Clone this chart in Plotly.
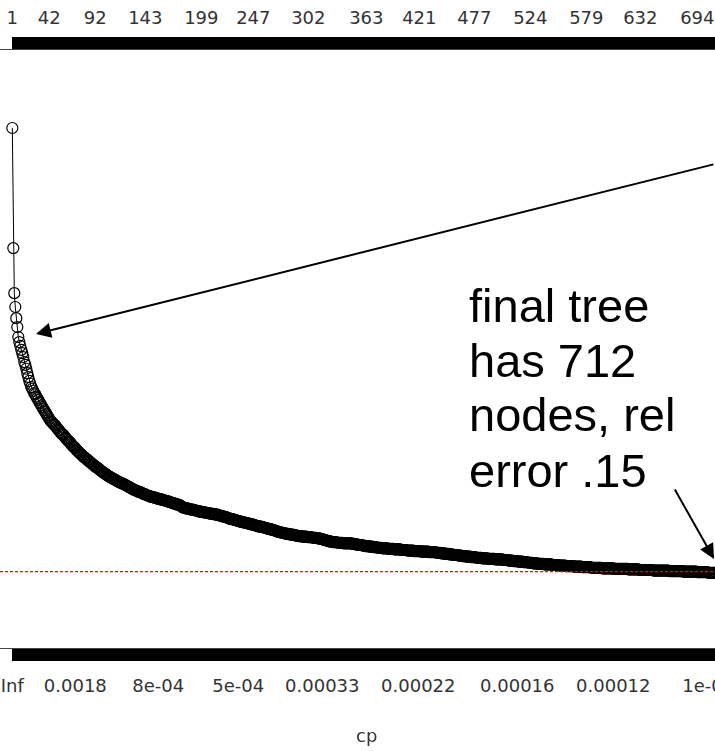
import plotly.graph_objects as go

# ---- data: cross-validated relative error for each row of the cp table ----
xerror = [
 1.000,0.784,0.703,0.678,0.658,0.642,0.624,0.615,0.608,0.601,
 0.595,0.588,0.579,0.574,0.567,0.559,0.552,0.545,0.540,0.534,
 0.531,0.527,0.523,0.521,0.517,0.514,0.511,0.507,0.505,0.501,
 0.498,0.495,0.492,0.489,0.486,0.483,0.480,0.477,0.474,0.472,
 0.470,0.468,0.466,0.465,0.462,0.460,0.457,0.456,0.453,0.451,
 0.449,0.448,0.446,0.443,0.441,0.439,0.437,0.436,0.434,0.431,
 0.429,0.427,0.426,0.424,0.421,0.420,0.418,0.416,0.414,0.413,
 0.411,0.409,0.408,0.406,0.405,0.403,0.402,0.400,0.399,0.397,
 0.396,0.394,0.393,0.391,0.390,0.389,0.388,0.386,0.384,0.383,
 0.382,0.380,0.379,0.378,0.377,0.375,0.374,0.373,0.372,0.371,
 0.370,0.369,0.368,0.367,0.366,0.365,0.364,0.363,0.362,0.361,
 0.361,0.360,0.359,0.358,0.357,0.356,0.355,0.354,0.353,0.352,
 0.351,0.350,0.349,0.348,0.348,0.347,0.346,0.345,0.345,0.344,
 0.343,0.342,0.342,0.341,0.340,0.339,0.339,0.338,0.337,0.337,
 0.336,0.336,0.335,0.335,0.334,0.334,0.333,0.333,0.332,0.332,
 0.331,0.331,0.330,0.330,0.329,0.329,0.328,0.328,0.327,0.326,
 0.326,0.325,0.325,0.324,0.323,0.323,0.322,0.322,0.321,0.320,
 0.318,0.317,0.317,0.316,0.316,0.316,0.315,0.315,0.314,0.314,
 0.313,0.313,0.313,0.312,0.312,0.311,0.311,0.310,0.310,0.310,
 0.309,0.309,0.309,0.308,0.308,0.308,0.307,0.307,0.307,0.306,
 0.306,0.306,0.305,0.305,0.305,0.304,0.304,0.303,0.303,0.302,
 0.302,0.301,0.301,0.300,0.300,0.299,0.298,0.298,0.297,0.297,
 0.296,0.296,0.295,0.295,0.294,0.294,0.293,0.293,0.292,0.292,
 0.291,0.291,0.290,0.290,0.290,0.289,0.289,0.288,0.288,0.287,
 0.287,0.286,0.286,0.285,0.285,0.284,0.284,0.283,0.283,0.283,
 0.282,0.282,0.281,0.281,0.280,0.280,0.279,0.279,0.278,0.278,
 0.277,0.277,0.276,0.276,0.275,0.274,0.274,0.273,0.273,0.272,
 0.272,0.272,0.271,0.271,0.270,0.270,0.270,0.269,0.269,0.269,
 0.268,0.268,0.268,0.267,0.267,0.267,0.266,0.266,0.266,0.266,
 0.265,0.265,0.265,0.265,0.265,0.264,0.264,0.264,0.264,0.264,
 0.263,0.263,0.263,0.263,0.263,0.262,0.262,0.262,0.261,0.261,
 0.260,0.260,0.259,0.259,0.258,0.258,0.257,0.257,0.256,0.256,
 0.255,0.255,0.255,0.255,0.255,0.254,0.254,0.254,0.254,0.254,
 0.254,0.253,0.253,0.253,0.253,0.253,0.253,0.253,0.253,0.253,
 0.252,0.252,0.252,0.251,0.251,0.251,0.250,0.250,0.250,0.250,
 0.249,0.249,0.249,0.248,0.248,0.248,0.248,0.247,0.247,0.247,
 0.247,0.246,0.246,0.246,0.246,0.245,0.245,0.245,0.245,0.245,
 0.244,0.244,0.244,0.244,0.244,0.244,0.243,0.243,0.243,0.243,
 0.243,0.243,0.242,0.242,0.242,0.242,0.242,0.242,0.242,0.241,
 0.241,0.241,0.241,0.241,0.241,0.240,0.240,0.240,0.240,0.240,
 0.240,0.240,0.239,0.239,0.239,0.239,0.239,0.239,0.239,0.238,
 0.238,0.238,0.238,0.238,0.238,0.238,0.238,0.237,0.237,0.237,
 0.237,0.237,0.237,0.237,0.236,0.236,0.236,0.236,0.236,0.235,
 0.235,0.235,0.235,0.234,0.234,0.234,0.234,0.233,0.233,0.233,
 0.233,0.232,0.232,0.232,0.232,0.232,0.231,0.231,0.231,0.231,
 0.230,0.230,0.230,0.230,0.229,0.229,0.229,0.229,0.229,0.228,
 0.228,0.228,0.228,0.228,0.227,0.227,0.227,0.227,0.227,0.227,
 0.226,0.226,0.226,0.226,0.226,0.226,0.225,0.225,0.225,0.225,
 0.225,0.225,0.225,0.224,0.224,0.224,0.224,0.224,0.224,0.224,
 0.224,0.223,0.223,0.223,0.223,0.223,0.222,0.222,0.222,0.222,
 0.222,0.221,0.221,0.221,0.221,0.221,0.220,0.220,0.220,0.220,
 0.220,0.219,0.219,0.219,0.219,0.219,0.218,0.218,0.218,0.218,
 0.218,0.217,0.217,0.217,0.217,0.217,0.216,0.216,0.216,0.216,
 0.216,0.216,0.215,0.215,0.215,0.215,0.215,0.215,0.215,0.215,
 0.214,0.214,0.214,0.214,0.214,0.214,0.214,0.213,0.213,0.213,
 0.213,0.213,0.213,0.213,0.212,0.212,0.212,0.212,0.212,0.212,
 0.212,0.212,0.211,0.211,0.211,0.211,0.211,0.211,0.211,0.211,
 0.210,0.210,0.210,0.210,0.210,0.210,0.210,0.210,0.210,0.209,
 0.209,0.209,0.209,0.209,0.209,0.209,0.209,0.209,0.209,0.209,
 0.208,0.208,0.208,0.208,0.208,0.208,0.208,0.208,0.208,0.208,
 0.208,0.208,0.207,0.207,0.207,0.207,0.207,0.207,0.207,0.207,
 0.207,0.207,0.207,0.207,0.207,0.207,0.206,0.206,0.206,0.206,
 0.206,0.206,0.206,0.206,0.206,0.206,0.206,0.205,0.205,0.205,
 0.205,0.205,0.205,0.205,0.205,0.205,0.205,0.205,0.205,0.205,
 0.205,0.204,0.204,0.204,0.204,0.204,0.204,0.204,0.204,0.204,
 0.204,0.204,0.204,0.204,0.204,0.204,0.204,0.203,0.203,0.203,
 0.203,0.203,0.203,0.203,0.203,0.203,0.203,0.203,0.203,0.203,
 0.203,0.202,0.202,0.202,0.202,0.202,0.202,0.202,0.202,0.202,
 0.202,0.202,0.202,0.202,0.202,0.201,0.201,0.201,0.201,0.201,
 0.201,0.201,0.201,0.201,0.201,0.201,0.200,0.200,0.200,0.200,
 0.200,0.200,0.200,
]
xstd_at_min = 0.002          # std error of the minimum xerror (1-SE line)

# upper axis: tree size shown at some rows of the cp table
size_label_row = [1, 38, 84, 134, 190, 242, 297, 355, 408, 463, 519, 575, 629, 686]
size_label_txt = ["1", "42", "92", "143", "199", "247", "302", "363", "421",
                  "477", "524", "579", "632", "694"]
# lower axis: geometric-mean cp shown at some rows
cp_label_row = [1, 64, 147, 227, 311, 407, 506, 602, 697]
cp_label_txt = ["Inf", "0.0018", "8e-04", "5e-04", "0.00033", "0.00022",
                "0.00016", "0.00012", "1e-04"]

annot_lines = ["final tree", "has 712", "nodes, rel", "error .15"]

# ---- figure ----
W, H = 715, 751
TOP, BOT = 50, 648                 # plot box in pixels
rows = list(range(1, len(xerror) + 1))

def px2paper(px, py):
    return px / W, (BOT - py) / (BOT - TOP)

top_text = {r: t for r, t in zip(size_label_row, size_label_txt)}
bot_text = {r: t for r, t in zip(cp_label_row, cp_label_txt)}

tickfont = dict(family="DejaVu Sans", size=18, color="#333333")

fig = go.Figure()
fig.add_trace(go.Scatter(
    x=rows, y=xerror, mode="lines+markers",
    line=dict(color="black", width=1),
    marker=dict(symbol="circle-open", size=11, color="black",
                line=dict(width=1.2, color="black")),
    hoverinfo="skip", showlegend=False))
# invisible trace on the top axis
fig.add_trace(go.Scatter(x=[rows[0], rows[-1]], y=[xerror[0], xerror[-1]],
                         xaxis="x2", mode="markers", opacity=0,
                         hoverinfo="skip", showlegend=False))

first_px = 12.3                    # first row sits 12.3 px from the left edge
x0 = 1 - first_px
xr = [x0, x0 + W]

min_err = min(xerror)
fig.add_hline(y=min_err + xstd_at_min,
              line=dict(color="red", width=1.2, dash="3px,2px"))

common = dict(range=xr, tickmode="array", tickvals=rows,
              ticks="outside", ticklen=12, tickwidth=1, tickcolor="black",
              showline=True, linecolor="#444", linewidth=1,
              showgrid=False, zeroline=False, tickfont=tickfont,
              ticklabeloverflow="allow", automargin=False)

fig.update_layout(
    width=W, height=H,
    margin=dict(l=0, r=0, t=TOP, b=H - BOT, pad=0, autoexpand=False),
    paper_bgcolor="white", plot_bgcolor="white",
    xaxis=dict(ticktext=[bot_text.get(r, "") for r in rows],
               ticklabelstandoff=9, **common),
    xaxis2=dict(overlaying="x", side="top",
                ticktext=[top_text.get(r, "") for r in rows],
                ticklabelstandoff=6, **common),
    yaxis=dict(range=[0.0647, 1.1403], visible=False, automargin=False),
)

# x label
lx, ly = px2paper(366, 735)
fig.add_annotation(text="cp", x=lx, y=ly, xref="paper", yref="paper",
                   showarrow=False, font=tickfont, xanchor="center", yanchor="middle")

# callout text
for k, line in enumerate(annot_lines):
    ax_, ay_ = px2paper(467, 305 + 55 * k)
    fig.add_annotation(text=line, x=ax_, y=ay_, xref="paper", yref="paper",
                       showarrow=False, xanchor="left", yanchor="middle",
                       font=dict(family="Liberation Sans", size=47, color="black"))

# arrows
hx, hy = px2paper(36, 334)
fig.add_annotation(x=hx, y=hy, xref="paper", yref="paper", text="",
                   showarrow=True, ax=730 - 36, ay=164 - 334,
                   arrowhead=2, arrowsize=1.5, arrowwidth=2, arrowcolor="black")
hx, hy = px2paper(714, 559)
fig.add_annotation(x=hx, y=hy, xref="paper", yref="paper", text="",
                   showarrow=True, ax=674 - 714, ay=488 - 559,
                   arrowhead=2, arrowsize=1.5, arrowwidth=2, arrowcolor="black")

# remove the default 8px page margin so the figure fills the window exactly
fig.write_html("out.html",
               config={"displayModeBar": False},
               post_script="document.body.style.margin='0';"
                           "document.body.style.overflow='hidden';")
